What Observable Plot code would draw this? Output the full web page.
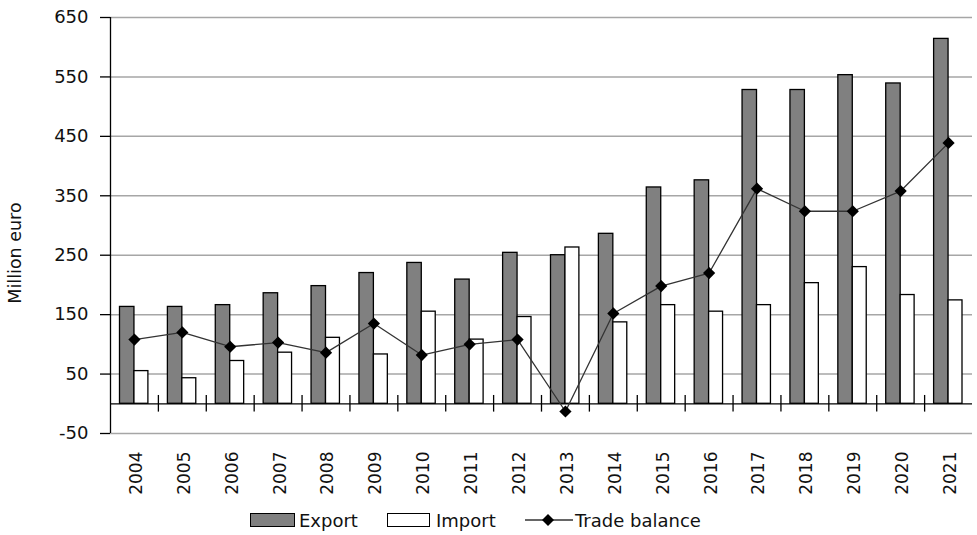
<!DOCTYPE html>
<html>
<head>
<meta charset="utf-8">
<script src="https://cdn.jsdelivr.net/npm/d3@7"></script>
<script src="https://cdn.jsdelivr.net/npm/@observablehq/plot@0.6"></script>
<style>
  body { margin: 0; background: #fff; font-family: "DejaVu Sans", sans-serif; }
  #chart { position: relative; width: 977px; }
  #ylabel { position: absolute; left: 15px; top: 253px; transform: translate(-50%, -50%) rotate(-90deg); white-space: nowrap; font-size: 17.5px; color: #111; font-family: "DejaVu Sans", sans-serif; }
  #legend { position: relative; width: 977px; height: 30px; font-family: "DejaVu Sans", sans-serif; font-size: 18px; color: #111; }
  #legend .it { position: absolute; top: 0; height: 30px; display: flex; align-items: center; }
  #legend .sw { box-sizing: border-box; height: 14px; border: 1.3px solid #000; }
</style>
</head>
<body>
<div id="chart"><div id="ylabel"></div></div>
<div id="legend">
  <div class="it" style="left:250px"><div class="sw" style="width:45px;background:#808080"></div><span style="margin-left:4px">Export</span></div>
  <div class="it" style="left:387px"><div class="sw" style="width:43px;background:#fff"></div><span style="margin-left:6px">Import</span></div>
  <div class="it" style="left:525px"><svg width="48" height="14"><line x1="0" y1="7" x2="48" y2="7" stroke="#333" stroke-width="1.3"/><path d="M23,1 L29,7 L23,13 L17,7 Z" fill="#000"/></svg><span style="margin-left:2px">Trade balance</span></div>
</div>
<script>
const years = ["2004","2005","2006","2007","2008","2009","2010","2011","2012","2013","2014","2015","2016","2017","2018","2019","2020","2021"];
const exportVals = [163,163,166,186,198,220,237,209,254,250,286,364,376,528,528,553,539,614];
const importVals = [55,43,72,86,111,83,155,108,146,263,137,166,155,166,203,230,183,174];
const balanceVals = [108,120,96,103,86,135,82,100,108,-13,152,198,220,362,324,324,358,439];
const yTicks = [-50,50,150,250,350,450,550,650];
const yLabel = "Million euro";

document.getElementById("ylabel").textContent = yLabel;

const rows = years.map((year, i) => ({year, exp: exportVals[i], imp: importVals[i], bal: balanceVals[i]}));

const W = 977, H = 505, mL = 110, mR = 5, mT = 17, mB = 72;
const bw = (W - mL - mR) / years.length;

const plot = Plot.plot({
  width: W, height: H,
  marginLeft: mL, marginRight: mR, marginTop: mT, marginBottom: mB,
  style: {fontFamily: "DejaVu Sans", fontSize: "17px", color: "#111", background: "#fff"},
  x: {domain: years, padding: 0, round: false, label: null},
  y: {domain: [-50, 650], label: null},
  marks: [
    Plot.gridY(yTicks, {stroke: "#a6a6a6", strokeOpacity: 1, strokeWidth: 1.5}),
    Plot.barY(rows, {x: "year", y: "exp", fill: "#808080", stroke: "#000", strokeWidth: 1.3, insetLeft: 9.5, insetRight: bw / 2}),
    Plot.barY(rows, {x: "year", y: "imp", fill: "#fff", stroke: "#000", strokeWidth: 1.3, insetLeft: bw / 2, insetRight: 10}),
    Plot.ruleY([0], {stroke: "#000", strokeWidth: 1.3}),
    Plot.ruleX(rows.slice(0, -1), {x: "year", y1: -14, y2: 14, dx: bw / 2, stroke: "#000", strokeWidth: 1.3}),
    Plot.ruleX([years[0]], {y1: -50, y2: 650, dx: -bw / 2, stroke: "#000", strokeWidth: 1.3}),
    Plot.lineY(rows, {x: "year", y: "bal", stroke: "#333", strokeWidth: 1.3}),
    Plot.dot(rows, {x: "year", y: "bal", symbol: "diamond2", r: 5.5, fill: "#000", stroke: "none"}),
    Plot.axisY(yTicks, {tickSize: 10, tickPadding: 12, fontSize: 18, stroke: "#000", strokeWidth: 1.3, tickFormat: d => String(d), label: null}),
    Plot.axisX({tickRotate: -90, tickSize: 0, tickPadding: 18, fontSize: 17, dx: 2, label: null})
  ]
});
document.getElementById("chart").appendChild(plot);
</script>
</body>
</html>
